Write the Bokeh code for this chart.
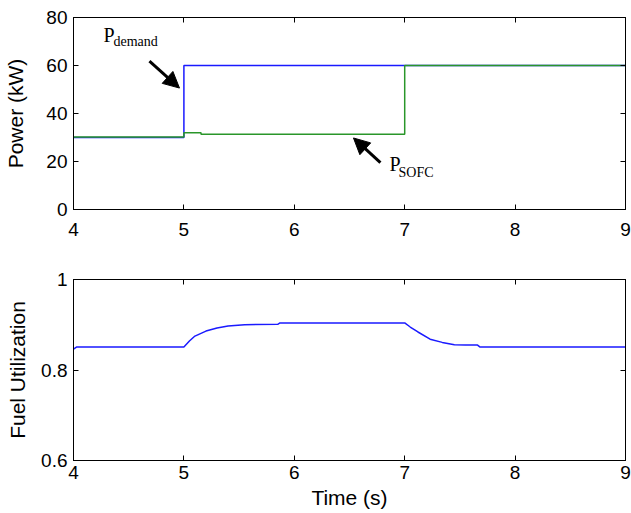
from bokeh.plotting import figure
from bokeh.layouts import column
from bokeh.models import (Range1d, LinearAxis, FixedTicker, Arrow, NormalHead, Label,
                          CustomLabelingPolicy)
from bokeh.embed import file_html
from bokeh.resources import INLINE

# ---- data ----
t_demand = [4.0, 5.0, 5.0, 9.0]
p_demand = [30.0, 30.0, 60.0, 60.0]

t_sofc = [4.0, 5.0, 5.0, 5.155, 5.155, 7.0, 7.0, 9.0]
p_sofc = [30.2, 30.2, 32.0, 32.0, 31.4, 31.4, 60.0, 60.0]

t_fu = [4.0, 4.03, 5.0, 5.05, 5.1, 5.2, 5.3, 5.4, 5.55, 5.85, 5.87, 7.0,
        7.05, 7.12, 7.23, 7.34, 7.45, 7.55, 7.66, 7.68, 9.0]
fu = [0.846, 0.851, 0.851, 0.864, 0.875, 0.886, 0.893, 0.897, 0.900, 0.901,
      0.904, 0.904, 0.895, 0.884, 0.868, 0.861, 0.856, 0.855, 0.855, 0.851, 0.851]

x_ticks = [4, 5, 6, 7, 8, 9]
power_ticks = [0, 20, 40, 60, 80]
fu_ticks = [0.6, 0.8, 1.0]

# annotation anchors (data units)
demand_arrow = (4.688, 61.8, 4.96, 50.6)
sofc_arrow = (6.78, 19.5, 6.536, 29.8)

BLUE = "#1a1aff"
GREEN = "#2a962a"
SANS = "Liberation Sans"
SERIF = "Liberation Serif"

W = 631
LEFT, RIGHT = 73, 6

HIDE_LABELS = CustomLabelingPolicy(code="""
for (const i of indices) { indices.unset(i) }
return indices
""")


def style(p, ylabel, yticks, x_standoff, xlabel=None, label_standoff=10, overrides=None):
    p.xgrid.visible = False
    p.ygrid.visible = False
    p.outline_line_color = "black"
    p.outline_line_width = 1
    p.background_fill_color = "white"
    p.border_fill_color = "white"
    p.min_border_left = LEFT
    p.min_border_right = RIGHT
    for ax, ticks in ((p.xaxis[0], x_ticks), (p.yaxis[0], yticks)):
        ax.ticker = FixedTicker(ticks=ticks)
        ax.major_tick_in = 5
        ax.major_tick_out = 0
        ax.minor_tick_line_color = None
        ax.major_label_text_font = SANS
        ax.major_label_text_font_size = "19px"
        ax.major_label_text_color = "black"
        ax.axis_line_color = "black"
    p.yaxis[0].major_label_standoff = 6
    p.xaxis[0].major_label_standoff = x_standoff
    if overrides:
        p.yaxis[0].major_label_overrides = overrides
    p.yaxis[0].axis_label = ylabel
    p.yaxis[0].axis_label_text_font = SANS
    p.yaxis[0].axis_label_text_font_size = "21px"
    p.yaxis[0].axis_label_text_font_style = "normal"
    p.yaxis[0].axis_label_text_color = "black"
    p.yaxis[0].axis_label_standoff = label_standoff
    if xlabel:
        p.xaxis[0].axis_label = xlabel
        p.xaxis[0].axis_label_text_font = SANS
        p.xaxis[0].axis_label_text_font_size = "21px"
        p.xaxis[0].axis_label_text_font_style = "normal"
        p.xaxis[0].axis_label_text_color = "black"
        p.xaxis[0].axis_label_standoff = 4
    # mirrored axes (box ticks, no labels)
    for loc, ticks in (("right", yticks), ("above", x_ticks)):
        ax = LinearAxis(ticker=FixedTicker(ticks=ticks), major_tick_in=5, major_tick_out=0,
                        minor_tick_line_color=None, major_label_policy=HIDE_LABELS,
                        major_label_text_font_size="0px",
                        major_label_standoff=0, axis_line_color="black")
        p.add_layout(ax, loc)


# ---- top: power ----
p1 = figure(width=W, height=245, x_range=Range1d(4, 9), y_range=Range1d(0, 80),
            output_backend="svg", toolbar_location=None)
p1.min_border_top = 17
p1.min_border_bottom = 36
p1.line(t_demand, p_demand, line_color=BLUE, line_width=1.5)
p1.line(t_sofc, p_sofc, line_color=GREEN, line_width=1.5)
style(p1, "Power (kW)", power_ticks, x_standoff=13, label_standoff=16)

for (xs, ys, xe, ye) in (demand_arrow, sofc_arrow):
    p1.add_layout(Arrow(x_start=xs, y_start=ys, x_end=xe, y_end=ye, line_width=3,
                        line_color="black",
                        end=NormalHead(size=16, fill_color="black", line_color="black")))

p1.add_layout(Label(x=4.272, y=68.0, text="P", text_font=SERIF, text_font_size="20px",
                    text_color="black"))
p1.add_layout(Label(x=4.362, y=66.7, text="demand", text_font=SERIF, text_font_size="14px",
                    text_color="black"))
p1.add_layout(Label(x=6.862, y=14.5, text="P", text_font=SERIF, text_font_size="20px",
                    text_color="black"))
p1.add_layout(Label(x=6.944, y=12.4, text="SOFC", text_font=SERIF, text_font_size="14px",
                    text_color="black"))

# ---- bottom: fuel utilization ----
p2 = figure(width=W, height=268, x_range=Range1d(4, 9), y_range=Range1d(0.6, 1.0),
            output_backend="svg", toolbar_location=None)
p2.min_border_top = 34
p2.min_border_bottom = 53
p2.line(t_fu, fu, line_color=BLUE, line_width=1.5)
style(p2, "Fuel Utilization", fu_ticks, x_standoff=5, xlabel="Time (s)", label_standoff=9,
      overrides={0.6: "0.6", 0.8: "0.8", 1.0: "1"})

layout = column(p1, p2, spacing=0)
open("out.html", "w").write(file_html(layout, INLINE))
